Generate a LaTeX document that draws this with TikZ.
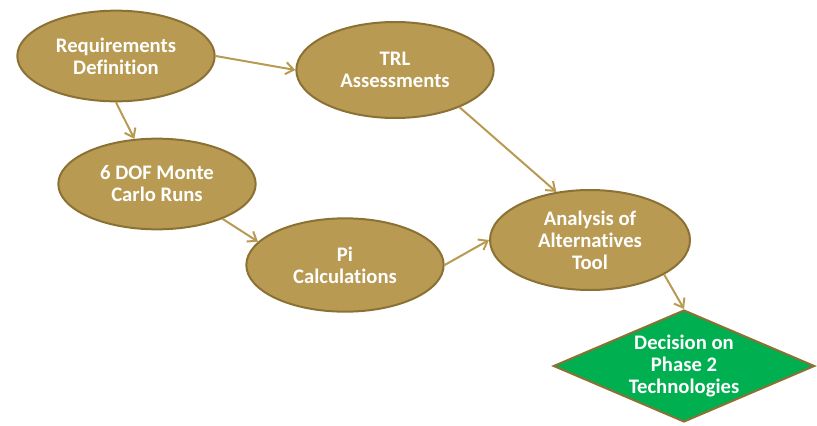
\documentclass[tikz,border=0pt]{standalone}
\usepackage{fontspec}
\setmainfont{Carlito}[Ligatures=NoCommon]
\usepackage{xcolor}
\usepackage{tikz}
\usetikzlibrary{shapes.geometric,arrows.meta}

\definecolor{gold}{RGB}{184,154,82}
\definecolor{golddark}{RGB}{139,113,52}
\definecolor{decgreen}{RGB}{0,176,80}

\begin{document}
\begin{tikzpicture}[x=0.75pt,y=-0.75pt,
    task/.style={ellipse,draw=golddark,fill=gold,line width=1.5pt,inner sep=0pt,
        minimum width=148pt,minimum height=68pt,text=white,align=center,
        font=\fontsize{15.5}{16.5}\selectfont\bfseries},
    flow/.style={draw=gold,line width=1.5pt,-{Straight Barb[length=6pt,width=9pt]}}]
            \useasboundingbox (0,0) rectangle (817,425);

            \node[task] at (116,56) (req) {Requirements\\Definition};
            \node[task,minimum height=72pt] at (395,70) (trl) {TRL\\Assessments};
            \node[task] at (157,184) (dof) {6 DOF Monte\\Carlo Runs};
            \node[task,minimum height=70pt] at (345,265) (pi) {Pi\\Calculations};
            \node[task,minimum width=150pt,minimum height=75pt] at (590,240) (aoa) {Analysis of\\Alternatives\\Tool};

            % decision box, text set on top of it
            \node[diamond,draw=golddark,fill=decgreen,line width=1.5pt,inner sep=0pt,
                minimum width=196pt,minimum height=84pt] at (684,366) (dec) {};
            \node[text=white,align=center,font=\fontsize{15.5}{16.5}\selectfont\bfseries]
                at (dec.center) (dectext) {Decision on\\Phase 2\\Technologies};

            \draw[flow] (req.east) -- (trl.west);
            \draw[flow] (req.south) -- (dof);
            \draw[flow] (dof.-28) -- (pi.165);
            \draw[flow] (pi.east) -- (aoa.west);
            \draw[flow] (trl.-30) -- (aoa.125);
            \draw[flow] (aoa.-25) -- (dec.north);
        \end{tikzpicture}
\end{document}
